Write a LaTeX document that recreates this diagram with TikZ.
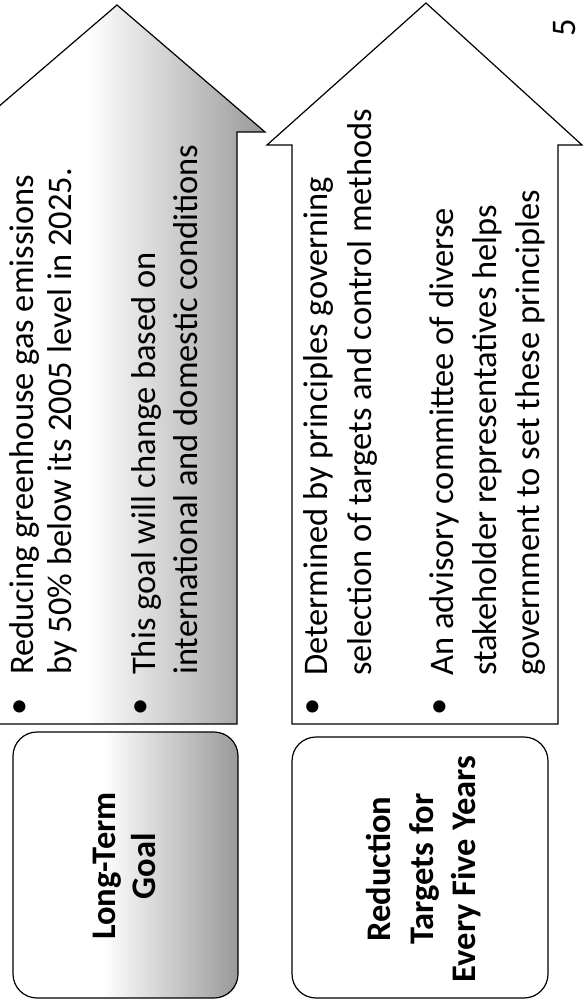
\documentclass[tikz,border=0pt]{standalone}
\usepackage{fontspec}
\setmainfont{Carlito}
\pgfdeclarehorizontalshading{fadegray}{100bp}{color(0bp)=(white); color(25bp)=(white); color(45bp)=(white); color(75bp)=(black!40); color(100bp)=(black!40)}
\begin{document}
\begin{tikzpicture}[x=1pt,y=-1pt,
  txt/.style={rotate=90,anchor=base west,inner sep=0pt,font=\fontsize{34.5}{41}\selectfont},
  ttl/.style={rotate=90,anchor=base,inner sep=0pt,font=\fontsize{34.5}{41}\selectfont\bfseries},
  bul/.style={rotate=90,anchor=center,inner sep=0pt,font=\fontsize{34.5}{41}\selectfont},
  outline/.style={draw=black,line width=1.2pt},
  grad/.style={shading=fadegray}]
\useasboundingbox (0,0) rectangle (583,1008);
\clip (0,0) rectangle (583,1008);
% arrow 1 (shaded)
\path[outline,grad] (-3,724) -- (-3,132) -- (-31,132) -- (117,5) -- (265,132) -- (237,132) -- (237,724) -- cycle;
% arrow 2 (white)
\path[outline,fill=white] (292,724) -- (292,145) -- (267,145) -- (426,3) -- (582,145) -- (558,145) -- (558,724) -- cycle;
% boxes
\path[outline,grad,rounded corners=24pt] (13,732) rectangle (238,998);
\path[outline,fill=white,rounded corners=24pt] (292,737) rectangle (548,998);
% arrow 1 text
\node[bul] (b1) at (22,707) {•};
\node[txt] (a1l1) at (33,675) {Reducing greenhouse gas emissions};
\node[txt] (a1l2) at (71,675) {by 50\% below its 2005 level in 2025.};
\node[bul] (b2) at (143,707) {•};
\node[txt] (a1l3) at (155,675) {This goal will change based on};
\node[txt] (a1l4) at (197,675) {international and domestic conditions};
% arrow 2 text
\node[bul] (b3) at (315,707) {•};
\node[txt] (a2l1) at (327,676) {Determined by principles governing};
\node[txt] (a2l2) at (371,676) {selection of targets and control methods};
\node[bul] (b4) at (442,707) {•};
\node[txt] (a2l3) at (453,676) {An advisory committee of diverse};
\node[txt] (a2l4) at (496,676) {stakeholder representatives helps};
\node[txt] (a2l5) at (539,676) {government to set these principles};
% box titles
\node[ttl] (t1a) at (115,866) {Long-Term};
\node[ttl] (t1b) at (155,866) {Goal};
\node[ttl] (t2a) at (390,869) {Reduction};
\node[ttl] (t2b) at (433,869) {Targets for};
\node[ttl] (t2c) at (475,869) {Every Five Years};
% page number
\node[rotate=90,anchor=base,inner sep=0pt,font=\fontsize{34.5}{41}\selectfont] (pg) at (575,28) {5};
\end{tikzpicture}
\end{document}
